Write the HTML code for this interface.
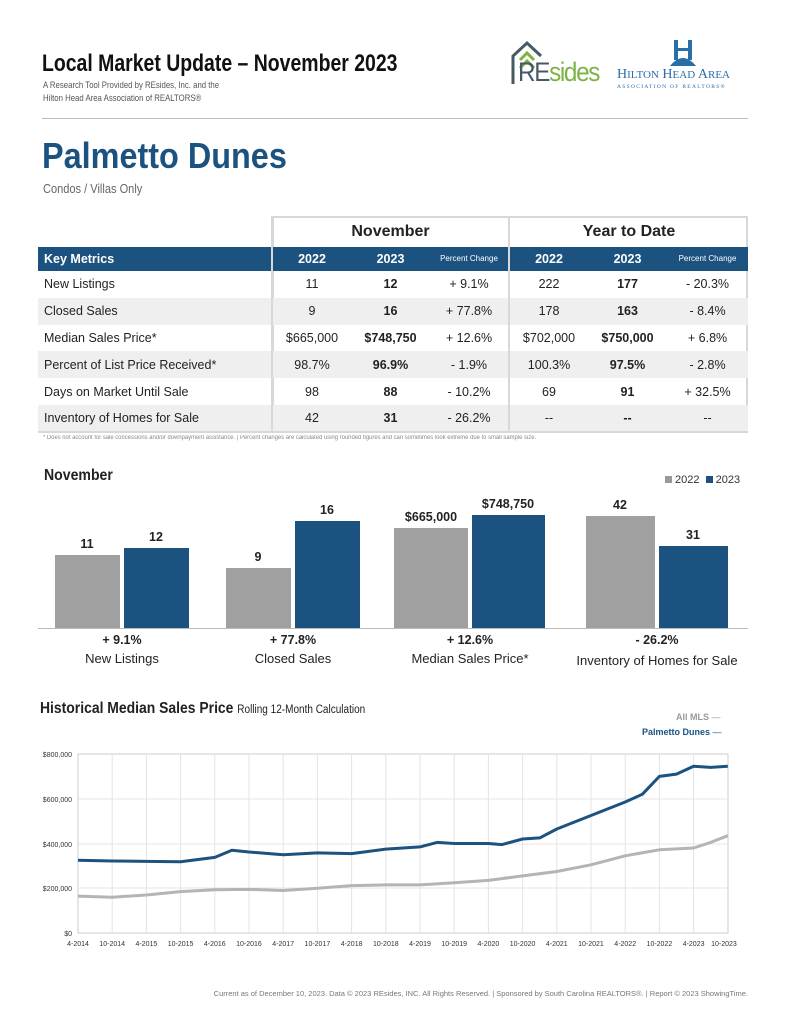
<!DOCTYPE html>
<html><head><meta charset="utf-8"><style>
body{margin:0;width:791px;height:1024px;background:#fff;position:relative;font-family:"Liberation Sans",sans-serif;color:#222;overflow:hidden}
.a{position:absolute;white-space:nowrap}
.n{display:inline-block;transform-origin:left top}
table{position:absolute;left:38px;top:216px;border-collapse:collapse;font-size:12.5px;table-layout:fixed;width:710px}
td{height:26.8px;padding:0;text-align:center;white-space:nowrap;overflow:hidden;line-height:14px}
tr.t td{height:31px}
tr.h td{height:24px}
td.k{text-align:left;padding-left:6px}
tr.g td{background:#efefef}
.bl{border-left:2px solid #d8d8d8}
.bar{position:absolute;bottom:396px}
.lbl{position:absolute;font-size:12.5px;font-weight:bold;text-align:center;width:80px}
</style></head><body>
<div class="a" style="left:42px;top:50px;font-size:24px;font-weight:bold;color:#111"><span class="n" style="transform:scaleX(0.81)">Local Market Update – November 2023</span></div>
<div class="a" style="left:43px;top:79px;font-size:9.5px;color:#555;line-height:13px"><span class="n" style="transform:scaleX(0.82)">A Research Tool Provided by REsides, Inc. and the<br>Hilton Head Area Association of REALTORS®</span></div>
<svg class="a" style="left:510px;top:40px" width="34" height="46"><polyline points="3,44 3,16 17,3 31,16" fill="none" stroke="#455a64" stroke-width="3"/><polyline points="10,20 17,13 24,20" fill="none" stroke="#7cb342" stroke-width="3"/><polyline points="10,28 17,21 24,28" fill="none" stroke="#7cb342" stroke-width="3"/></svg>
<div class="a" style="left:518px;top:57px;font-size:27px;color:#7cb342;letter-spacing:-1.5px"><span class="n" style="transform:scaleX(0.9)"><span style="color:#455a64">RE</span>sides</span></div>
<svg class="a" style="left:668px;top:40px" width="30" height="28"><rect x="6" y="0" width="4" height="20" fill="#2a6ea8"/><rect x="20" y="0" width="4" height="20" fill="#2a6ea8"/><rect x="6" y="8" width="18" height="3" fill="#2a6ea8"/><path d="M2 26 Q15 10 28 26Z" fill="#2a6ea8"/></svg>
<div class="a" style="left:617px;top:67px;font-family:'Liberation Serif',serif;font-size:14px;color:#2a6ea8">H<span style="font-size:11px">ILTON</span> H<span style="font-size:11px">EAD</span> A<span style="font-size:11px">REA</span></div>
<div class="a" style="left:617px;top:84px;font-family:'Liberation Serif',serif;font-size:5.5px;letter-spacing:1.3px;color:#2a6ea8">ASSOCIATION OF REALTORS®</div>
<div class="a" style="left:42px;top:118px;width:706px;height:1px;background:#bbb"></div>
<div class="a" style="left:42px;top:135px;font-size:36px;font-weight:bold;color:#1b527f"><span class="n" style="transform:scaleX(0.9)">Palmetto Dunes</span></div>
<div class="a" style="left:43px;top:181px;font-size:13px;color:#666"><span class="n" style="transform:scaleX(0.85)">Condos / Villas Only</span></div>

<div class="a" style="left:272px;top:216px;width:476px;height:216px;border:2px solid #d8d8d8;border-bottom:none;box-sizing:border-box"></div>
<table>
<colgroup><col style="width:234px"><col style="width:79px"><col style="width:79px"><col style="width:79px"><col style="width:79px"><col style="width:79px"><col style="width:81px"></colgroup>
<tr class="t"><td class="k"></td><td colspan="3" class="bl" style="font-size:16px;font-weight:bold">November</td><td colspan="3" class="bl" style="font-size:16px;font-weight:bold">Year to Date</td></tr>
<tr class="h" style="background:#1b527f;color:#fff;font-weight:bold"><td class="k">Key Metrics</td><td class="bl">2022</td><td>2023</td><td style="font-size:8px;font-weight:normal">Percent Change</td><td class="bl">2022</td><td>2023</td><td style="font-size:8px;font-weight:normal">Percent Change</td></tr>
<tr><td class="k">New Listings</td><td class="bl">11</td><td><b>12</b></td><td>+ 9.1%</td><td class="bl">222</td><td><b>177</b></td><td>- 20.3%</td></tr>
<tr class="g"><td class="k">Closed Sales</td><td class="bl">9</td><td><b>16</b></td><td>+ 77.8%</td><td class="bl">178</td><td><b>163</b></td><td>- 8.4%</td></tr>
<tr><td class="k">Median Sales Price*</td><td class="bl">$665,000</td><td><b>$748,750</b></td><td>+ 12.6%</td><td class="bl">$702,000</td><td><b>$750,000</b></td><td>+ 6.8%</td></tr>
<tr class="g"><td class="k">Percent of List Price Received*</td><td class="bl">98.7%</td><td><b>96.9%</b></td><td>- 1.9%</td><td class="bl">100.3%</td><td><b>97.5%</b></td><td>- 2.8%</td></tr>
<tr><td class="k">Days on Market Until Sale</td><td class="bl">98</td><td><b>88</b></td><td>- 10.2%</td><td class="bl">69</td><td><b>91</b></td><td>+ 32.5%</td></tr>
<tr class="g"><td class="k">Inventory of Homes for Sale</td><td class="bl">42</td><td><b>31</b></td><td>- 26.2%</td><td class="bl">--</td><td><b>--</b></td><td>--</td></tr>
</table>
<div class="a" style="left:38px;top:431px;width:710px;height:2px;background:#d8d8d8"></div>
<div class="a" style="left:43px;top:435px;font-size:6px;color:#888"><span class="n" style="transform:scaleX(0.98)">* Does not account for sale concessions and/or downpayment assistance. | Percent changes are calculated using rounded figures and can sometimes look extreme due to small sample size.</span></div>

<div class="a" style="left:44px;top:467px;font-size:16px;font-weight:bold"><span class="n" style="transform:scaleX(0.88)">November</span></div>
<div class="a" style="left:665px;top:474px;font-size:11px;color:#333"><span style="display:inline-block;width:7px;height:7px;background:#999"></span> 2022 <span style="display:inline-block;width:7px;height:7px;background:#1b527f;margin-left:3px"></span> 2023</div>
<div class="bar" style="left:55px;width:65px;height:73px;background:#a0a0a0"></div>
<div class="bar" style="left:124px;width:65px;height:80px;background:#1b527f"></div>
<div class="bar" style="left:226px;width:65px;height:60px;background:#a0a0a0"></div>
<div class="bar" style="left:295px;width:65px;height:107px;background:#1b527f"></div>
<div class="bar" style="left:394px;width:74px;height:100px;background:#a0a0a0"></div>
<div class="bar" style="left:472px;width:73px;height:113px;background:#1b527f"></div>
<div class="bar" style="left:586px;width:69px;height:112px;background:#a0a0a0"></div>
<div class="bar" style="left:659px;width:69px;height:82px;background:#1b527f"></div>
<div class="a" style="left:38px;top:628px;width:710px;height:1px;background:#bbb"></div>
<div class="lbl" style="left:47px;top:537px">11</div><div class="lbl" style="left:116px;top:530px">12</div>
<div class="lbl" style="left:218px;top:550px">9</div><div class="lbl" style="left:287px;top:503px">16</div>
<div class="lbl" style="left:391px;top:510px">$665,000</div><div class="lbl" style="left:468px;top:497px">$748,750</div>
<div class="lbl" style="left:580px;top:498px">42</div><div class="lbl" style="left:653px;top:528px">31</div>
<div class="lbl" style="left:82px;top:633px">+ 9.1%</div><div class="lbl" style="left:253px;top:633px">+ 77.8%</div>
<div class="lbl" style="left:430px;top:633px">+ 12.6%</div><div class="lbl" style="left:617px;top:633px">- 26.2%</div>
<div class="a" style="left:52px;top:651px;width:140px;text-align:center;font-size:13px">New Listings</div>
<div class="a" style="left:223px;top:651px;width:140px;text-align:center;font-size:13px">Closed Sales</div>
<div class="a" style="left:400px;top:651px;width:140px;text-align:center;font-size:13px">Median Sales Price*</div>
<div class="a" style="left:567px;top:653px;width:180px;text-align:center;font-size:13px">Inventory of Homes for Sale</div>

<div class="a" style="left:40px;top:700px;font-size:16px;font-weight:bold"><span class="n" style="transform:scaleX(0.87)">Historical Median Sales Price <span style="font-size:11.5px;font-weight:normal">Rolling 12-Month Calculation</span></span></div>
<div class="a" style="left:676px;top:712px;font-size:9px;font-weight:bold;color:#999">All MLS <span style="font-weight:normal">—</span></div>
<div class="a" style="left:642px;top:727px;font-size:9px;font-weight:bold;color:#1b527f">Palmetto Dunes <span style="font-weight:normal">—</span></div>
<svg class="a" style="left:0;top:740px" width="791" height="210">
<g transform="translate(0,-740)" font-family="Liberation Sans,sans-serif" font-size="7" fill="#333">
<rect x="78" y="754" width="650" height="179" fill="none" stroke="#ccc"/>
<g stroke="#e4e4e4"><line x1="78" x2="728" y1="799" y2="799"/><line x1="78" x2="728" y1="844" y2="844"/><line x1="78" x2="728" y1="888" y2="888"/>
<line x1="112.2" x2="112.2" y1="754" y2="933"/><line x1="146.4" x2="146.4" y1="754" y2="933"/><line x1="180.6" x2="180.6" y1="754" y2="933"/><line x1="214.8" x2="214.8" y1="754" y2="933"/><line x1="249" x2="249" y1="754" y2="933"/><line x1="283.2" x2="283.2" y1="754" y2="933"/><line x1="317.4" x2="317.4" y1="754" y2="933"/><line x1="351.6" x2="351.6" y1="754" y2="933"/><line x1="385.8" x2="385.8" y1="754" y2="933"/><line x1="420" x2="420" y1="754" y2="933"/><line x1="454.2" x2="454.2" y1="754" y2="933"/><line x1="488.4" x2="488.4" y1="754" y2="933"/><line x1="522.6" x2="522.6" y1="754" y2="933"/><line x1="556.8" x2="556.8" y1="754" y2="933"/><line x1="591" x2="591" y1="754" y2="933"/><line x1="625.2" x2="625.2" y1="754" y2="933"/><line x1="659.4" x2="659.4" y1="754" y2="933"/><line x1="693.6" x2="693.6" y1="754" y2="933"/></g>
<g text-anchor="end"><text x="72" y="757">$800,000</text><text x="72" y="802">$600,000</text><text x="72" y="847">$400,000</text><text x="72" y="891">$200,000</text><text x="72" y="936">$0</text></g>
<g text-anchor="middle"><text x="78" y="946">4-2014</text><text x="112.2" y="946">10-2014</text><text x="146.4" y="946">4-2015</text><text x="180.6" y="946">10-2015</text><text x="214.8" y="946">4-2016</text><text x="249" y="946">10-2016</text><text x="283.2" y="946">4-2017</text><text x="317.4" y="946">10-2017</text><text x="351.6" y="946">4-2018</text><text x="385.8" y="946">10-2018</text><text x="420" y="946">4-2019</text><text x="454.2" y="946">10-2019</text><text x="488.4" y="946">4-2020</text><text x="522.6" y="946">10-2020</text><text x="556.8" y="946">4-2021</text><text x="591" y="946">10-2021</text><text x="625.2" y="946">4-2022</text><text x="659.4" y="946">10-2022</text><text x="693.6" y="946">4-2023</text><text x="724" y="946">10-2023</text></g>
<polyline fill="none" stroke="#b4b4b4" stroke-width="3" stroke-linejoin="round" points="78,896.1 112.2,897.2 146.4,895 180.6,891.6 214.8,889.8 249,889.4 283.2,890.5 317.4,888.3 351.6,885.6 385.8,884.9 420,884.9 454.2,882.7 488.4,880.4 522.6,875.9 556.8,871.5 591,864.8 625.2,855.8 659.4,849.8 693.6,848 710.7,842.4 727.8,835.7"/>
<polyline fill="none" stroke="#1b527f" stroke-width="3" stroke-linejoin="round" points="78,860.3 112.2,861 146.4,861.4 180.6,861.8 214.8,857.4 231.9,850.2 249,852 283.2,854.7 317.4,852.9 351.6,853.6 385.8,849.1 420,846.9 437.1,842.4 454.2,843.5 488.4,843.5 502.1,844.6 522.6,839 539.7,837.9 556.8,829 591,815.5 625.2,802 642.3,794.3 659.4,776.4 676.5,774.1 693.6,766.3 710.7,767.4 727.8,766.3"/>
</g></svg>
<div class="a" style="left:186px;top:989px;width:562px;text-align:right;font-size:7.5px;color:#777">Current as of December 10, 2023. Data © 2023 REsides, INC. All Rights Reserved. | Sponsored by South Carolina REALTORS®. | Report © 2023 ShowingTime.</div>
</body></html>
